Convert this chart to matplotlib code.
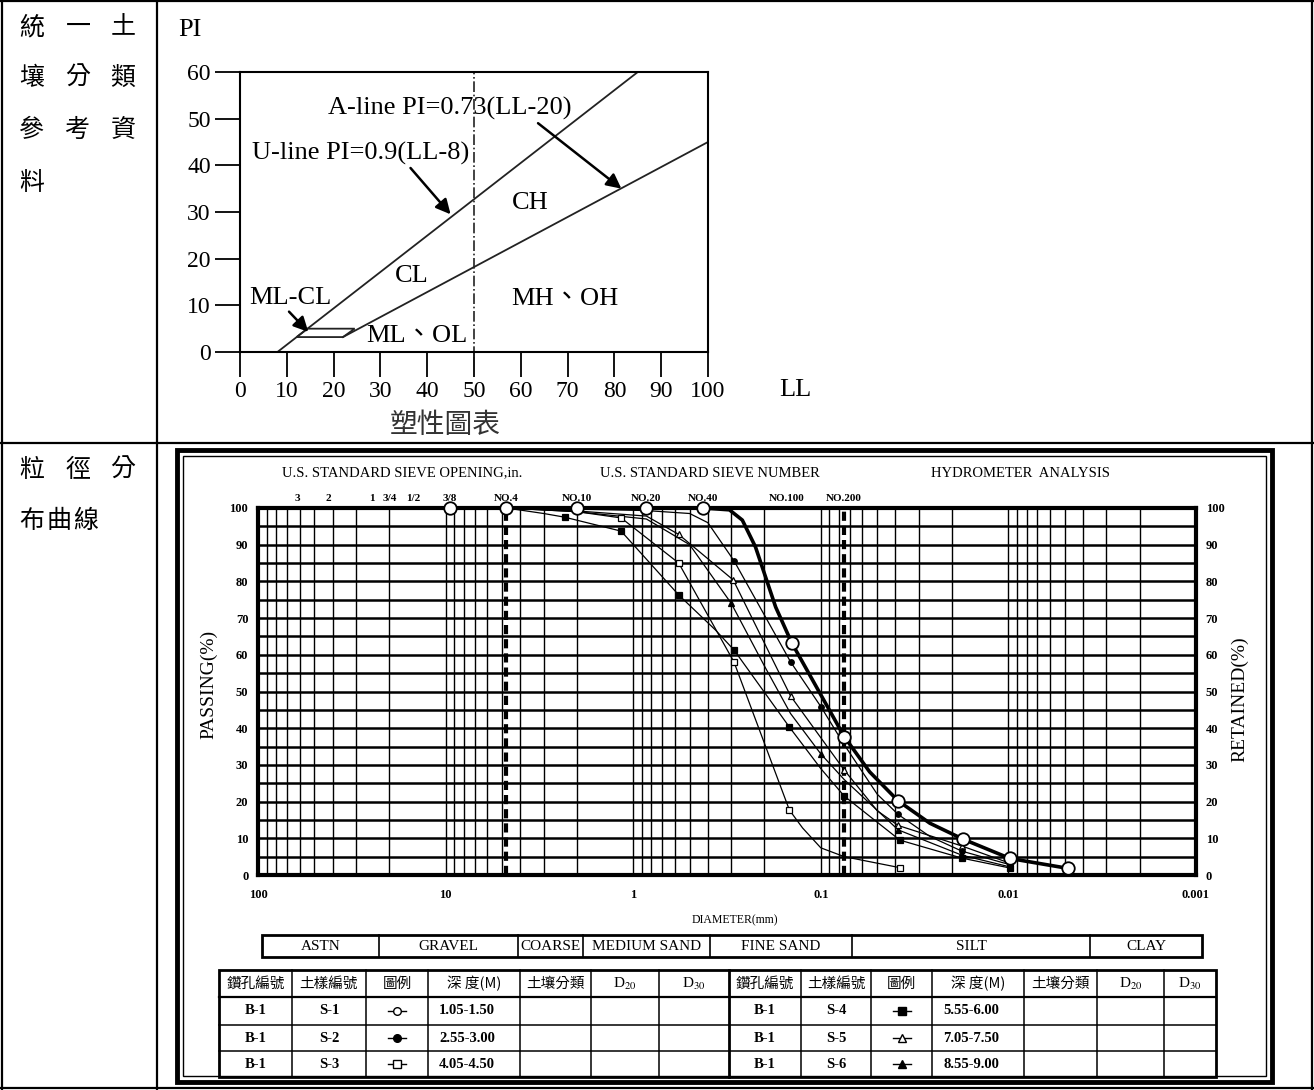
import matplotlib
matplotlib.use("Agg")
import matplotlib.pyplot as plt
from matplotlib.patches import Rectangle, Polygon
from matplotlib.ticker import LogLocator, NullFormatter, FixedLocator

SERIF = ["Liberation Serif", "DejaVu Serif"]
CJK = ["Noto Sans CJK TC", "DejaVu Sans"]
plt.rcParams["mathtext.fontset"] = "stix"

# ---------------- data : plasticity chart ----------------
ll_ticks = [0, 10, 20, 30, 40, 50, 60, 70, 80, 90, 100]
pi_ticks = [0, 10, 20, 30, 40, 50, 60]
u_line_ll = [8, 85]
u_line_pi = [0, 60]
a_line_ll = [22, 100]
a_line_pi = [3.2, 45]
mlcl_ll = [12.1, 22, 24.5, 14.4]
mlcl_pi = [3.2, 3.2, 5, 5]
ll_divide = 50

# ---------------- data : grain size curves ----------------
s1_d = [9.525, 4.75, 2.0, 0.85, 0.425, 0.307, 0.262, 0.223, 0.174, 0.143, 0.075, 0.0549, 0.0387, 0.0262, 0.0175, 0.0098, 0.0048]
s1_p = [100, 100, 100, 100, 100, 99.5, 96.7, 89.4, 73.0, 63.3, 37.7, 28.1, 20.2, 14.1, 9.8, 4.5, 1.8]
s1_mk = [0, 1, 2, 3, 4, 9, 10, 12, 14, 15, 16]

s2_d = [4.75, 2.0, 0.85, 0.5, 0.4, 0.29, 0.145, 0.1, 0.075, 0.05, 0.0387, 0.0262, 0.0177, 0.0098]
s2_p = [100, 99.7, 99.3, 98.5, 96, 85.6, 58.1, 45.9, 35.5, 22, 16.5, 10.5, 6.5, 2.8]
s2_mk = [0, 2, 5, 6, 7, 10, 12, 13]

s3_d = [4.75, 2.0, 1.16, 0.572, 0.29, 0.147, 0.125, 0.1, 0.075, 0.0379]
s3_p = [100, 99, 97.3, 85, 58, 17.7, 12.8, 7.4, 5.0, 2.0]
s3_mk = [2, 3, 4, 5, 9]

s4_d = [4.75, 3.0, 2.32, 1.16, 0.572, 0.365, 0.29, 0.147, 0.1, 0.075, 0.0379, 0.0177, 0.0098]
s4_p = [100, 98.5, 97.5, 93.7, 76.3, 66.8, 61.3, 40.3, 29, 21.5, 9.5, 4.6, 1.9]
s4_mk = [2, 3, 4, 6, 7, 9, 10, 11, 12]

s5_d = [4.75, 2.0, 0.85, 0.572, 0.293, 0.145, 0.075, 0.05, 0.0387, 0.0177, 0.0098]
s5_p = [100, 99.2, 97.8, 92.8, 80.4, 48.8, 28.6, 17.5, 13.5, 7.9, 3.2]
s5_mk = [3, 4, 5, 6, 8, 9, 10]

s6_d = [4.75, 2.0, 0.85, 0.5, 0.3, 0.2, 0.145, 0.1, 0.075, 0.0387, 0.0177, 0.0098]
s6_p = [100, 99, 97, 90, 74, 57, 44, 33, 26, 12.3, 5.4, 2.2]
s6_mk = [4, 7, 9, 10, 11]

gs_yticks = [0, 10, 20, 30, 40, 50, 60, 70, 80, 90, 100]
gs_xticks = [100, 10, 1, 0.1, 0.01, 0.001]
gs_xlabels = ["100", "10", "1", "0.1", "0.01", "0.001"]
sieve_in_labels = ["3", "2", "1", "3/4", "1/2", "3/8"]
sieve_in_pos = [62, 42, 24.8, 19.9, 14.8, 9.48]
sieve_no_labels = ["NO.4", "NO.10", "NO.20", "NO.40", "NO.100", "NO.200"]
sieve_no_pos = [4.75, 2.0, 0.85, 0.425, 0.152, 0.0754]
dashed_sieves = [4.75, 0.075]

band_labels = ["ASTN", "GRAVEL", "COARSE", "MEDIUM SAND", "FINE SAND", "SILT", "CLAY"]
table_header = ["鑽孔編號", "土樣編號", "圖例", "深 度(M)", "土壤分類", "D$_{20}$", "D$_{30}$"]
boreholes = ["B-1", "B-1", "B-1", "B-1", "B-1", "B-1"]
samples = ["S-1", "S-2", "S-3", "S-4", "S-5", "S-6"]
depths = ["1.05-1.50", "2.55-3.00", "4.05-4.50", "5.55-6.00", "7.05-7.50", "8.55-9.00"]

# ---------------- figure ----------------
W, H = 1314, 1090
fig = plt.figure(figsize=(W / 100, H / 100), dpi=100)


def px_axes(x0, y0, x1, y1):
    return fig.add_axes([x0 / W, 1 - y1 / H, (x1 - x0) / W, (y1 - y0) / H])


bg = px_axes(0, 0, W, H)
bg.set_xlim(0, W)
bg.set_ylim(H, 0)
bg.axis("off")

# outer layout table
lk = dict(color="black", lw=1.6, solid_capstyle="butt")
bg.plot([0, W], [1, 1], **lk)
bg.plot([0, W], [1088, 1088], **lk)
bg.plot([2, 2], [0, H], **lk)
bg.plot([1312, 1312], [0, H], **lk)
bg.plot([157, 157], [0, H], **lk)
bg.plot([0, W], [443, 443], **lk)

# left column text
for row, yy in zip([["統", "一", "土"], ["壤", "分", "類"], ["參", "考", "資"], ["料"]], [27, 78, 130, 183]):
    for ch, xx in zip(row, [32, 78, 123]):
        bg.text(xx, yy, ch, fontsize=18, family=CJK, ha="center", va="center")
for ch, xx in zip(["粒", "徑", "分"], [32, 78, 123]):
    bg.text(xx, 470, ch, fontsize=18, family=CJK, ha="center", va="center")
for ch, xx in zip(["布", "曲", "線"], [32, 59, 86]):
    bg.text(xx, 521, ch, fontsize=18, family=CJK, ha="center", va="center")

# ---------------- plasticity chart ----------------
ax1 = px_axes(240, 72, 708, 352)
ax1.set_xlim(0, 100)
ax1.set_ylim(0, 60)
ax1.set_xticks(ll_ticks)
ax1.set_yticks(pi_ticks)
ax1.tick_params(direction="out", length=18, width=1.3, labelsize=17, pad=3)
for lab in ax1.get_xticklabels() + ax1.get_yticklabels():
    lab.set_family(SERIF)
for sp in ax1.spines.values():
    sp.set_linewidth(1.5)
lc = "#222222"
ax1.plot(u_line_ll, u_line_pi, color=lc, lw=1.3)
ax1.plot(a_line_ll, a_line_pi, color=lc, lw=1.3)
ax1.add_patch(Polygon(list(zip(mlcl_ll, mlcl_pi)), closed=True, fill=False, ec=lc, lw=1.3))
ax1.plot([ll_divide, ll_divide], [-1, 60], color=lc, lw=1.2, ls="-.", clip_on=False)

tk = dict(family=SERIF, fontsize=19)
ak = dict(arrowstyle="-|>", color="black", lw=1.8, mutation_scale=22, shrinkA=0, shrinkB=0)
ax1.annotate("U-line PI=0.9(LL-8)", xy=(45, 29.5), xytext=(2.5, 42.5), ha="left", va="center",
             arrowprops=dict(**ak, relpos=(0.72, 0.0)), **tk)
ax1.annotate("A-line PI=0.73(LL-20)", xy=(81.5, 35), xytext=(18.7, 52.1), ha="left", va="center",
             arrowprops=dict(**ak, relpos=(0.85, 0.0)), **tk)
ax1.annotate("ML-CL", xy=(14.6, 4.3), xytext=(2, 11.6), ha="left", va="center",
             arrowprops=dict(**ak, relpos=(0.45, 0.0)), **tk)
ax1.text(62, 32, "CH", ha="center", va="center", **tk)
ax1.text(36.6, 16.2, "CL", ha="center", va="center", **tk)
ax1.text(69.5, 11.4, "MH、OH", ha="center", va="center", family=SERIF + ["Noto Sans CJK TC"], fontsize=19)
ax1.text(37.7, 3.4, "ML、OL", ha="center", va="center", family=SERIF + ["Noto Sans CJK TC"], fontsize=19)
ax1.text(-10.7, 69, "PI", ha="center", va="center", clip_on=False, **tk)
ax1.text(118.6, -8.1, "LL", ha="center", va="center", clip_on=False, **tk)
bg.text(445, 425, "塑性圖表", fontsize=20, family=CJK, ha="center", va="center", color="#333333")

# ---------------- grain size frame ----------------
bg.add_patch(Rectangle((177, 450), 1272 - 177, 1082 - 450, fill=False, ec="black", lw=3.5))
bg.add_patch(Rectangle((183, 456), 1266 - 183, 1076 - 456, fill=False, ec="black", lw=1.0))

ax2 = px_axes(258, 508, 1196, 875)
ax2.set_xscale("log")
ax2.set_xlim(100, 0.001)
ax2.set_ylim(0, 100)
ax2.xaxis.set_major_locator(FixedLocator(gs_xticks))
ax2.set_xticklabels(gs_xlabels)
ax2.xaxis.set_minor_locator(LogLocator(base=10, subs=[2, 3, 4, 5, 6, 7, 8, 9], numticks=20))
ax2.xaxis.set_minor_formatter(NullFormatter())
ax2.set_yticks(gs_yticks)
ax2.set_yticks(list(range(5, 100, 10)), minor=True)
ax2.grid(True, which="both", axis="x", color="black", lw=1.0)
ax2.grid(True, which="both", axis="y", color="black", lw=1.8)
ax2.set_axisbelow(True)
ax2.tick_params(which="both", length=0)
ax2.tick_params(axis="y", labelright=True, labelsize=9, pad=7)
ax2.tick_params(axis="x", labelsize=9, pad=10)
for lab in ax2.get_xticklabels() + ax2.get_yticklabels():
    lab.set_family(SERIF)
    lab.set_fontweight("bold")
for t in ax2.yaxis.get_major_ticks():
    t.label2.set_family(SERIF)
    t.label2.set_fontweight("bold")
for sp in ax2.spines.values():
    sp.set_linewidth(3)
for ds in dashed_sieves:
    ax2.axvline(ds, color="black", lw=3, ls=(0, (2.2, 1.2)), zorder=2)

series = [
    (s1_d, s1_p, s1_mk, "o", "white", 2.6, 9),
    (s2_d, s2_p, s2_mk, "o", "black", 0.9, 4),
    (s3_d, s3_p, s3_mk, "s", "white", 0.9, 4.5),
    (s4_d, s4_p, s4_mk, "s", "black", 0.9, 4),
    (s5_d, s5_p, s5_mk, "^", "white", 0.9, 4.5),
    (s6_d, s6_p, s6_mk, "^", "black", 0.9, 4),
]
for d, p, mk, m, fc, lw, ms in reversed(series):
    ax2.plot(d, p, color="black", lw=lw, marker=m, mfc=fc, mec="black", mew=1.3 if ms > 6 else 0.9,
             ms=ms, markevery=mk, zorder=4, clip_on=False)

xt = ax2.get_xaxis_transform()
hk = dict(family=SERIF, fontsize=10.5, ha="center", va="center", transform=xt, clip_on=False)
ax2.text(17.1, 1.095, "U.S. STANDARD SIEVE OPENING,in.", **hk)
ax2.text(0.389, 1.095, "U.S. STANDARD SIEVE NUMBER", **hk)
ax2.text(0.0086, 1.095, "HYDROMETER  ANALYSIS", **hk)
for lab, pos in zip(sieve_in_labels + sieve_no_labels, sieve_in_pos + sieve_no_pos):
    ax2.text(pos, 1.027, lab, family=SERIF, fontsize=8, fontweight="bold", ha="center", va="center",
             transform=xt, clip_on=False)
ax2.text(0.286, -0.123, "DIAMETER(mm)", family=SERIF, fontsize=8.5, ha="center", va="center",
         transform=xt, clip_on=False)
ax2.text(-0.053, 0.52, "PASSING(%)", family=SERIF, fontsize=14, rotation=90, ha="center", va="center",
         transform=ax2.transAxes, clip_on=False)
ax2.text(1.047, 0.48, "RETAINED(%)", family=SERIF, fontsize=14, rotation=90, ha="center", va="center",
         transform=ax2.transAxes, clip_on=False)

# ---------------- classification band ----------------
band_x = [262, 379, 518, 583, 710, 852, 1090, 1202]
band_y0, band_y1 = 935, 957
bg.add_patch(Rectangle((band_x[0], band_y0), band_x[-1] - band_x[0], band_y1 - band_y0, fill=False, ec="black", lw=2))
for i, lab in enumerate(band_labels):
    if i > 0:
        bg.plot([band_x[i], band_x[i]], [band_y0, band_y1], color="black", lw=1.2)
    bg.text((band_x[i] + band_x[i + 1]) / 2, (band_y0 + band_y1) / 2 + 1, lab, family=SERIF, fontsize=11,
            ha="center", va="center")

# ---------------- sample table ----------------
cols = [219, 292, 366, 428, 520, 591, 659, 729, 801, 871, 932, 1024, 1097, 1164, 1216]
rows = [970, 997, 1025, 1051, 1077]
bg.add_patch(Rectangle((cols[0], rows[0]), cols[-1] - cols[0], rows[-1] - rows[0], fill=False, ec="black", lw=2))
for x in cols[1:-1]:
    bg.plot([x, x], [rows[0], rows[-1]], color="black", lw=2 if x == 729 else 1.1)
for y in rows[1:-1]:
    bg.plot([cols[0], cols[-1]], [y, y], color="black", lw=1.6 if y == rows[1] else 1.1)

for half in range(2):
    base = half * 7
    for j, h in enumerate(table_header):
        cx = (cols[base + j] + cols[base + j + 1]) / 2
        bg.text(cx, (rows[0] + rows[1]) / 2, h, family=CJK if "$" not in h else SERIF,
                fontsize=10.5 if "$" not in h else 11, ha="center", va="center")
    for r in range(3):
        k = half * 3 + r
        cy = (rows[r + 1] + rows[r + 2]) / 2
        bg.text((cols[base] + cols[base + 1]) / 2, cy, boreholes[k], family=SERIF, fontsize=10.5,
                fontweight="bold", ha="center", va="center")
        bg.text((cols[base + 1] + cols[base + 2]) / 2, cy, samples[k], family=SERIF, fontsize=10.5,
                fontweight="bold", ha="center", va="center")
        bg.text(cols[base + 3] + 11, cy, depths[k], family=SERIF, fontsize=10.5,
                fontweight="bold", ha="left", va="center")
        _, _, _, m, fc, _, _ = series[k]
        mx = (cols[base + 2] + cols[base + 3]) / 2
        bg.plot([mx - 9, mx + 9], [cy, cy], color="black", lw=1.0)
        bg.plot([mx], [cy], marker=m, mfc=fc, mec="black", ms=5.5, mew=1.0, color="black")

fig.savefig("out.png", dpi=100)
